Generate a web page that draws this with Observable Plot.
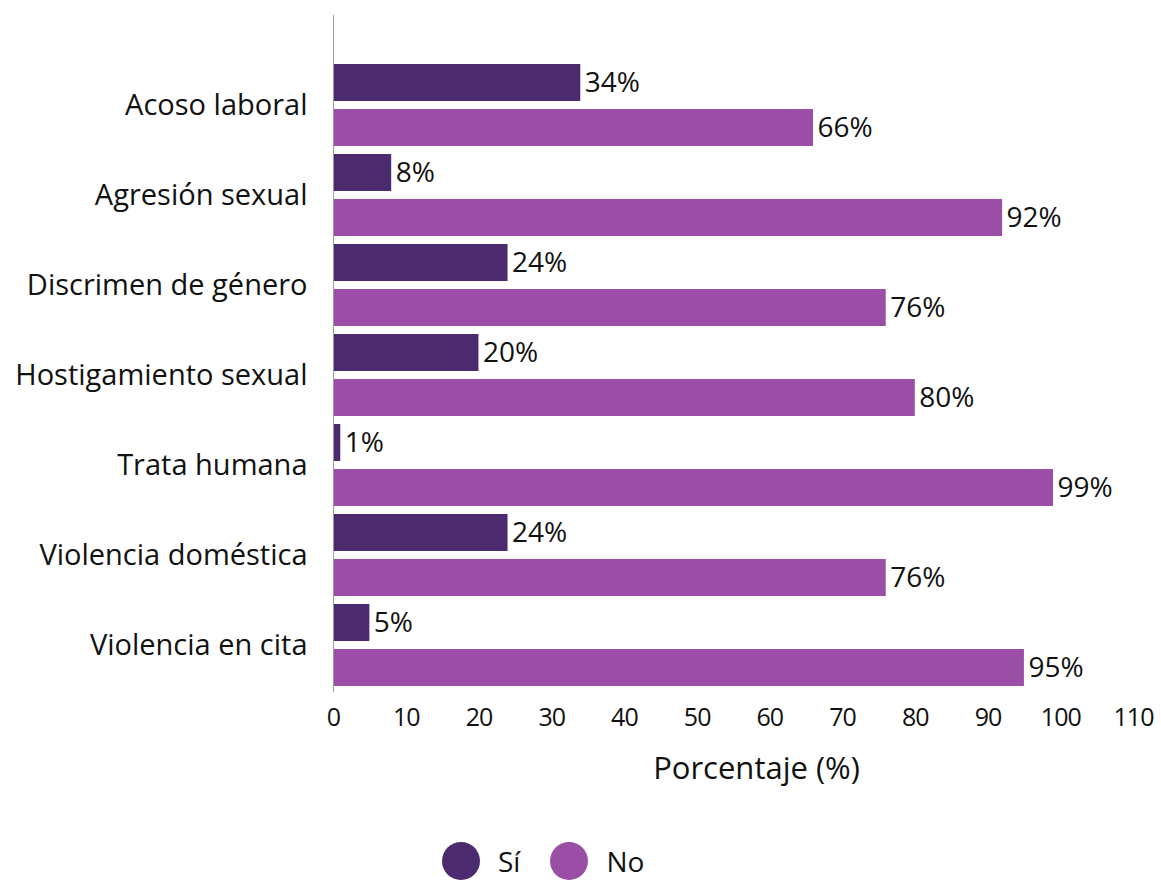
<!DOCTYPE html>
<html>
<head>
<meta charset="utf-8">
<script src="https://cdn.jsdelivr.net/npm/d3@7"></script>
<script src="https://cdn.jsdelivr.net/npm/@observablehq/plot@0.6"></script>
<style>
  html, body { margin: 0; padding: 0; background: white; }
  #chart svg g[aria-label="x-axis tick label"] {
    font-family: "Open Sans", sans-serif;
    font-size: 25px;
    letter-spacing: -1px;
  }
  #legend {
    display: flex; align-items: center; gap: 0;
    margin-top: 42px; margin-left: 442px;
    font-family: "Open Sans", sans-serif; font-size: 28px; color: #111;
  }
  #legend .sw { width: 38px; height: 38px; border-radius: 50%; display: inline-block; }
  #legend .lab { margin-left: 18px; margin-right: 30px; }
</style>
</head>
<body>
<div id="chart"></div>
<div id="legend"></div>
<script>
const categories = ["Acoso laboral", "Agresión sexual", "Discrimen de género", "Hostigamiento sexual", "Trata humana", "Violencia doméstica", "Violencia en cita"];
const si = [34, 8, 24, 20, 1, 24, 5];
const no = [66, 92, 76, 80, 99, 76, 95];
const series = ["Sí", "No"];
const colors = ["#4b2a6d", "#9a4ea6"];
const xTicks = [0, 10, 20, 30, 40, 50, 60, 70, 80, 90, 100, 110];
const xLabel = "Porcentaje (%)";

const rows = categories.flatMap((c, i) => [
  {cat: c, serie: "Sí", value: si[i], key: c + "|Sí"},
  {cat: c, serie: "No", value: no[i], key: c + "|No"}
]);

const chart = Plot.plot({
  width: 1161,
  height: 800,
  marginLeft: 333,
  marginRight: 28,
  marginTop: 15,
  marginBottom: 108,
  style: {fontFamily: "Open Sans, sans-serif", fontSize: "28px", color: "#111", background: "white"},
  x: {domain: [0, 110]},
  y: {domain: rows.map(d => d.key), paddingInner: 0.178, paddingOuter: 0.611, align: 0.889, axis: null},
  color: {domain: series, range: colors},
  marks: [
    Plot.barX(rows, {x: "value", y: "key", fill: "serie"}),
    Plot.ruleX([0], {stroke: "#999", strokeWidth: 1}),
    Plot.text(rows, {x: "value", y: "key", text: d => d.value + "%", textAnchor: "start", dx: 4, fill: "#111"}),
    Plot.text(categories, {x: 0, y: d => d + "|Sí", text: d => d, textAnchor: "end", dx: -26, dy: 22.5, fill: "#111", fontSize: 29}),
    Plot.axisX({ticks: xTicks, tickSize: 0, tickPadding: 16, label: null}),
    Plot.text([xLabel], {frameAnchor: "bottom", text: d => d, dx: 23, dy: 86, fill: "#111", fontSize: 31})
  ]
});
document.getElementById("chart").append(chart);

const legend = document.getElementById("legend");
series.forEach((s, i) => {
  const sw = document.createElement("span");
  sw.className = "sw";
  sw.style.background = colors[i];
  const lab = document.createElement("span");
  lab.className = "lab";
  lab.textContent = s;
  legend.append(sw, lab);
});
</script>
</body>
</html>
